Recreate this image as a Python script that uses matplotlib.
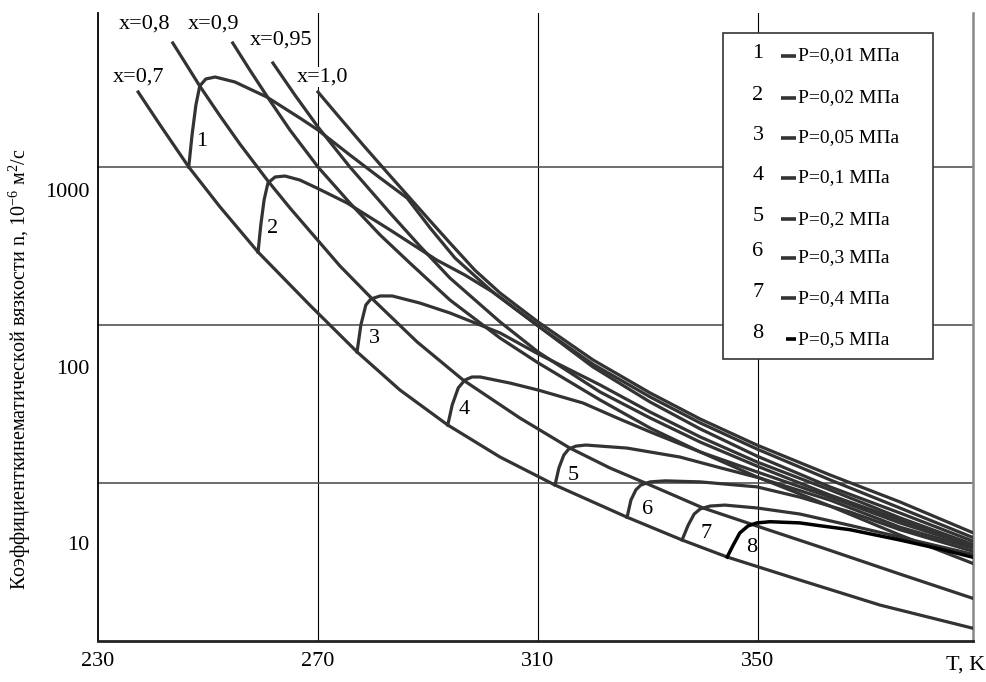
import matplotlib
matplotlib.use('Agg')
import matplotlib.pyplot as plt
from matplotlib.patches import Rectangle
from matplotlib.ticker import NullLocator

plt.rcParams['font.family'] = ['Liberation Serif', 'DejaVu Serif']
plt.rcParams['mathtext.fontset'] = 'custom'
plt.rcParams['mathtext.rm'] = 'Liberation Serif'
plt.rcParams['mathtext.it'] = 'Liberation Serif:italic'

# ---- data (T in K, kinematic viscosity in 1e-6 m2/s) ----
# lines of constant vapour quality x
x07_T = [237.3, 241.3, 246.5, 252.2, 259.1, 268.5, 277.1, 284.9, 293.6, 303.1, 313.1, 326.2, 336.2, 344.4, 357.6, 372.2, 388.9]
x07_nu = [3591, 2333, 1350, 801, 445, 223, 121, 73.6, 46.6, 30.7, 21.3, 14.0, 10.4, 8.33, 6.17, 4.45, 3.30]
x08_T = [243.6, 246.0, 248.5, 252.2, 255.8, 260.9, 264.9, 268.5, 274.0, 279.5, 288.0, 296.4, 306.7, 315.8, 323.1, 330.4, 340.0, 350.4, 361.3, 375.8, 388.9]
x08_nu = [6807, 5175, 3883, 2626, 1822, 1125, 791, 586, 371, 248, 138, 83.8, 51.1, 34.5, 26.6, 21.3, 15.8, 12.3, 9.49, 6.67, 4.88]
x09_T = [254.5, 257.6, 260.7, 264.9, 270.0, 275.8, 281.3, 286.7, 294.0, 303.1, 310.0, 321.3, 330.4, 339.5, 349.8, 363.1, 375.8, 388.9]
x09_nu = [6807, 4786, 3408, 2187, 1350, 844, 556, 386, 238, 145, 105, 64.6, 44.8, 32.8, 23.7, 16.2, 11.1, 7.70]
x095_T = [261.8, 265.8, 270.0, 275.8, 283.1, 288.5, 294.0, 303.1, 310.0, 321.3, 330.4, 339.5, 349.8, 363.1, 375.8, 388.9]
x095_nu = [5242, 3453, 2275, 1350, 741, 482, 317, 179, 121, 71.7, 51.1, 37.3, 27.3, 18.7, 13.5, 9.62]
x10_T = [270.0, 274.0, 278.2, 282.5, 286.7, 290.4, 294.0, 298.5, 303.1, 310.0, 320.0, 330.4, 339.5, 349.8, 363.1, 375.8, 388.9]
x10_nu = [3591, 2558, 1799, 1265, 901, 668, 501, 352, 261, 179, 109, 70.8, 50.4, 35.9, 24.3, 17.1, 11.5]

# isobars
p1_T = [246.5, 247.1, 247.8, 248.5, 249.6, 251.3, 254.9, 260.7, 266.7, 270.0, 275.8, 281.3, 286.2, 290.4, 294.9, 301.8, 310.0, 320.0, 330.4, 339.5, 349.8, 363.1, 375.8, 388.9]
p1_nu = [1350, 2049, 3031, 3883, 4255, 4367, 4092, 3364, 2558, 2187, 1579, 1170, 901, 609, 412, 264, 170, 103, 67.2, 47.9, 34.1, 22.8, 15.8, 10.8]
p2_T = [259.1, 259.6, 260.2, 260.9, 262.2, 264.0, 266.7, 269.8, 275.3, 283.1, 291.6, 296.7, 301.8, 310.0, 320.0, 330.4, 339.5, 349.8, 363.1, 375.8, 388.9]
p2_nu = [445, 633, 878, 1096, 1185, 1200, 1139, 1026, 844, 594, 401, 330, 264, 170, 99.4, 62.9, 44.3, 31.1, 20.8, 14.8, 10.3]
p3_T = [277.1, 277.8, 278.7, 279.6, 281.3, 283.5, 288.5, 294.0, 303.1, 310.0, 321.3, 330.4, 339.5, 349.8, 363.1, 375.8, 388.9]
p3_nu = [121, 172, 223, 241, 251, 251, 229, 201, 155, 118, 78.6, 55.2, 39.9, 28.8, 20.0, 13.9, 9.87]
p4_T = [293.6, 294.4, 295.5, 296.7, 298.0, 299.5, 304.9, 310.0, 318.2, 324.4, 330.4, 339.5, 349.8, 363.1, 375.8, 388.9]
p4_nu = [46.6, 60.5, 75.6, 83.8, 87.2, 87.2, 80.6, 73.6, 62.1, 51.1, 42.6, 32.8, 25.3, 18.2, 13.0, 9.62]
p5_T = [313.1, 313.8, 314.7, 315.6, 316.9, 318.7, 326.2, 335.8, 343.3, 350.2, 363.1, 375.8, 388.9]
p5_nu = [21.3, 26.6, 31.5, 34.1, 35.4, 35.9, 34.5, 30.7, 26.6, 23.4, 17.5, 12.3, 9.37]
p6_T = [326.2, 326.9, 327.8, 328.7, 330.4, 333.1, 339.5, 349.8, 357.6, 366.7, 375.8, 388.9]
p6_nu = [14.0, 17.5, 20.0, 21.3, 22.2, 22.5, 22.2, 20.8, 18.2, 15.0, 11.9, 9.01]
p7_T = [336.2, 337.3, 338.4, 339.5, 341.3, 344.0, 349.8, 357.6, 366.7, 375.8, 388.9]
p7_nu = [10.4, 12.6, 14.6, 15.6, 16.2, 16.4, 15.8, 14.6, 12.6, 10.8, 8.66]
p8_T = [344.4, 345.5, 346.7, 348.2, 349.8, 352.2, 357.6, 360.7, 366.7, 375.8, 383.1, 388.9]
p8_nu = [8.33, 9.74, 11.4, 12.5, 13.0, 13.2, 13.0, 12.6, 11.9, 10.4, 9.25, 8.33]

x_labels = ['x=0,7', 'x=0,8', 'x=0,9', 'x=0,95', 'x=1,0']
x_label_T = [237.3, 238.5, 251.1, 263.3, 270.9]
x_label_nu = [4367, 8719, 8719, 7079, 4367]

p_numbers = ['1', '2', '3', '4', '5', '6', '7', '8']
p_num_T = [248.9, 261.8, 280.2, 296.5, 316.5, 330.0, 340.5, 348.9]
p_num_nu = [1895, 609, 145, 57.4, 24.0, 15.4, 11.25, 9.37]
legend_texts = ['P=0,01 МПа', 'P=0,02 МПа', 'P=0,05 МПа', 'P=0,1 МПа',
                'P=0,2 МПа', 'P=0,3 МПа', 'P=0,4 МПа', 'P=0,5 МПа']

x_ticks = [230, 270, 310, 350]
y_ticks = [10, 100, 1000]
y_tick_labels = ['10', '100', '1000']
v_grid = [270, 310, 350]
h_grid = [1350, 172, 21.9]

# ---- figure ----
fig = plt.figure(figsize=(9.86, 6.82), dpi=100)
ax = fig.add_axes([98/986, 41/682, 875/986, 628/682])
ax.set_yscale('log')
ax.set_xlim(230, 389.1)
ax.set_ylim(2.785, 10065)

ax.set_xticks(x_ticks)
ax.set_xticklabels([str(t) for t in x_ticks])
ax.set_yticks(y_ticks)
ax.set_yticklabels(y_tick_labels)
ax.yaxis.set_minor_locator(NullLocator())
ax.tick_params(axis='both', length=0, labelsize=16)
ax.tick_params(axis='x', pad=8)
ax.tick_params(axis='y', pad=6)

ax.spines['top'].set_visible(False)
ax.spines['left'].set_color('black')
ax.spines['left'].set_linewidth(1.3)
ax.spines['bottom'].set_color('#222222')
ax.spines['bottom'].set_linewidth(2.0)
ax.spines['right'].set_color('#888888')
ax.spines['right'].set_linewidth(1.8)

for v in v_grid:
    ax.axvline(v, color='black', lw=0.8, zorder=1)
for h in h_grid:
    ax.axhline(h, color='#555555', lw=1.2, zorder=1)

gray = '#333333'
for T, nu in [(x07_T, x07_nu), (x08_T, x08_nu), (x09_T, x09_nu),
              (x095_T, x095_nu), (x10_T, x10_nu)]:
    ax.plot(T, nu, color=gray, lw=2.3, zorder=3, solid_joinstyle='round')
iso = [(p1_T, p1_nu), (p2_T, p2_nu), (p3_T, p3_nu), (p4_T, p4_nu),
       (p5_T, p5_nu), (p6_T, p6_nu), (p7_T, p7_nu)]
for T, nu in iso:
    ax.plot(T, nu, color=gray, lw=2.3, zorder=3, solid_joinstyle='round')
ax.plot(p8_T, p8_nu, color='black', lw=2.5, zorder=4, solid_joinstyle='round')

for s, t, n in zip(x_labels, x_label_T, x_label_nu):
    ax.text(t, n, s, fontsize=16, ha='center', va='center', zorder=6,
            bbox=dict(facecolor='white', edgecolor='none', pad=0.5))
for s, t, n in zip(p_numbers, p_num_T, p_num_nu):
    ax.text(t, n, s, fontsize=16, ha='center', va='center', zorder=6)

# legend box
ax.add_patch(Rectangle((0.7143, 0.4490), 0.2400, 0.5192, transform=ax.transAxes,
                       facecolor='white', edgecolor='#333333', lw=1.2, zorder=7))
row_y = [0.9363, 0.8694, 0.8057, 0.7420, 0.6752, 0.6146, 0.5494, 0.4841]
for i, (s, yy) in enumerate(zip(legend_texts, row_y)):
    ny = yy + (0.006 if i >= 5 else 0.0)
    ax.text(0.7543, ny, p_numbers[i], transform=ax.transAxes, fontsize=16,
            ha='center', va='center', zorder=8)
    x0 = 0.7863 if i == 7 else 0.7806
    ax.plot([x0, 0.7977], [yy - 0.004, yy - 0.004], transform=ax.transAxes,
            color='black' if i == 7 else gray, lw=2.6, solid_capstyle='butt', zorder=8)
    ax.text(0.7995, yy - 0.004, s, transform=ax.transAxes, fontsize=14,
            ha='left', va='center', zorder=8)

# axis titles
ax.text(-0.089, 0.433,
        'Коэффициенткинематической вязкости n, $\\mathregular{10^{-6}}$ м$\\mathregular{^{2}}$/с',
        transform=ax.transAxes, rotation=90, fontsize=14.5, ha='center', va='center')
ax.text(0.992, -0.038, 'T, K', transform=ax.transAxes, fontsize=16,
        ha='center', va='center')

fig.savefig('out.png', dpi=100)
